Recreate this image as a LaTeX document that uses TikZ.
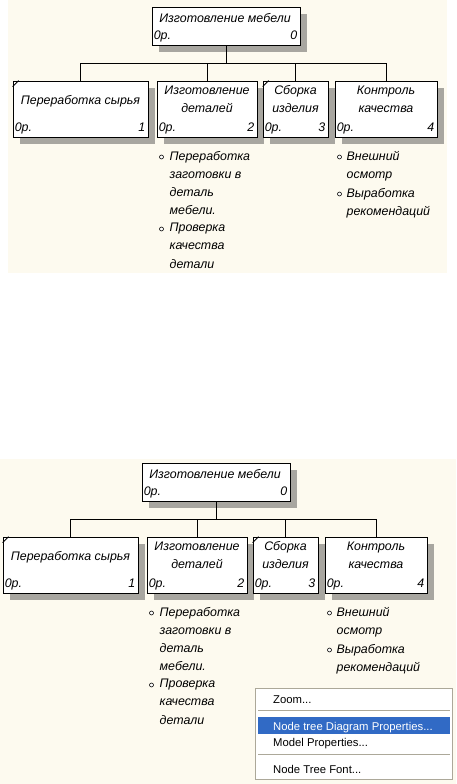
\documentclass[tikz,border=0pt]{standalone}
\usepackage{fontspec}
\setmainfont{Liberation Sans}
\usepackage{tikz}
\usetikzlibrary{positioning,calc,shadows}

\definecolor{paper}{RGB}{253,250,239}
\definecolor{hatch}{RGB}{168,166,160}
\definecolor{menublue}{RGB}{49,106,197}
\definecolor{menuline}{RGB}{172,168,153}

\newcommand{\treefont}{\fontsize{12.4}{18.2}\selectfont\itshape}
\newcommand{\menufont}{\fontsize{11.3}{13}\selectfont}

% one node tree, #1 = suffix of the node names
\newcommand{\mebeltree}[1]{%
  \node[box, minimum width=148pt, minimum height=38pt] (top#1) at (226,26) {};
  \node[ttl] (t0#1) at (225,18) {Изготовление мебели};
  \node[cost] (p0#1) at ([shift={(2pt,6pt)}]top#1.south west) {0р.};
  \node[num] (n0#1) at ([shift={(-3pt,6pt)}]top#1.south east) {0};

  \node[box, minimum width=135pt, minimum height=56pt] (c1#1) at (80.5,109) {};
  \node[box, minimum width=100pt, minimum height=56pt] (c2#1) at (207,109) {};
  \node[box, minimum width=65pt, minimum height=56pt] (c3#1) at (295.5,109) {};
  \node[box, minimum width=102pt, minimum height=56pt] (c4#1) at (386,109) {};
  \draw[conn] ([yshift=-6pt]c1#1.north west) -- ([xshift=6pt]c1#1.north west);
  \draw[conn] ([yshift=-6pt]c3#1.north west) -- ([xshift=6pt]c3#1.north west);

  \node[ttl] (t1#1) at (80.5,101) {Переработка сырья};
  \node[ttl] (t2#1) at (207,99) {Изготовление\\деталей};
  \node[ttl] (t3#1) at (295.5,99) {Сборка\\изделия};
  \node[ttl] (t4#1) at (386,99) {Контроль\\качества};

  \foreach \k in {1,...,4}{
    \draw[conn] (top#1.south) -- ++(0,18) -| (c\k#1.north);
    \node[cost] (p\k#1) at ([shift={(2pt,6pt)}]c\k#1.south west) {0р.};
    \node[num] (n\k#1) at ([shift={(-3pt,6pt)}]c\k#1.south east) {\k};
  }

  \node[dot] (d1#1) at (161.5,157) {};
  \node[note] (m1#1) at (169.5,151) {Переработка\\заготовки в\\деталь\\мебели.};
  \node[dot] (d2#1) at (161.5,229) {};
  \node[note] (m2#1) at (169.5,223) {Проверка\\качества\\детали};
  \node[dot] (d3#1) at (339.5,157) {};
  \node[note] (m3#1) at (346.5,151) {Внешний\\осмотр};
  \node[dot] (d4#1) at (339.5,194) {};
  \node[note] (m4#1) at (346.5,188) {Выработка\\рекомендаций};
}

\begin{document}
\begin{tikzpicture}[x=1pt, y=-1pt,
  box/.style={draw, fill=white, line width=0.8pt, inner sep=0pt,
    drop shadow={shadow xshift=7pt, shadow yshift=-7pt, fill=hatch, opacity=1}},
  ttl/.style={font=\treefont, align=center, inner sep=0pt},
  cost/.style={font=\treefont, anchor=base west, inner sep=0pt},
  num/.style={font=\treefont, anchor=base east, inner sep=0pt},
  conn/.style={line width=0.8pt},
  dot/.style={circle, draw, line width=0.6pt, fill=white, minimum size=4pt, inner sep=0pt},
  note/.style={font=\treefont, align=left, anchor=north west, inner sep=0pt},
  menubox/.style={draw=menuline, fill=white, line width=0.8pt, inner sep=0pt},
  menusel/.style={fill=menublue, inner sep=0pt},
  menuitem/.style={font=\menufont, anchor=base west, inner sep=0pt},
  sep/.style={draw=menuline, line width=0.8pt}
]
\useasboundingbox (0,0) rectangle (456,784);
\fill[paper] (8,0) rectangle (447,273);
\fill[paper] (0,459) rectangle (456,784);

\begin{scope}
  \mebeltree{a}
\end{scope}
\begin{scope}[shift={(-10,456)}]
  \mebeltree{b}
\end{scope}

\node[menubox, minimum width=197pt, minimum height=91pt] (menu) at (353.5,733.5) {};
\node[menusel, minimum width=192pt, minimum height=17pt] (selbar) at (354,725.5) {};
\node[menuitem] (mzoom) at (273,703) {Zoom...};
\node[menuitem, text=white] (mtree) at (273,730) {Node tree Diagram Properties...};
\node[menuitem] (mmodel) at (273,746) {Model Properties...};
\node[menuitem] (mfont) at (273,773) {Node Tree Font...};
\draw[sep] (258,710.5) -- (450,710.5);
\draw[sep] (258,754.5) -- (450,754.5);
\end{tikzpicture}
\end{document}
